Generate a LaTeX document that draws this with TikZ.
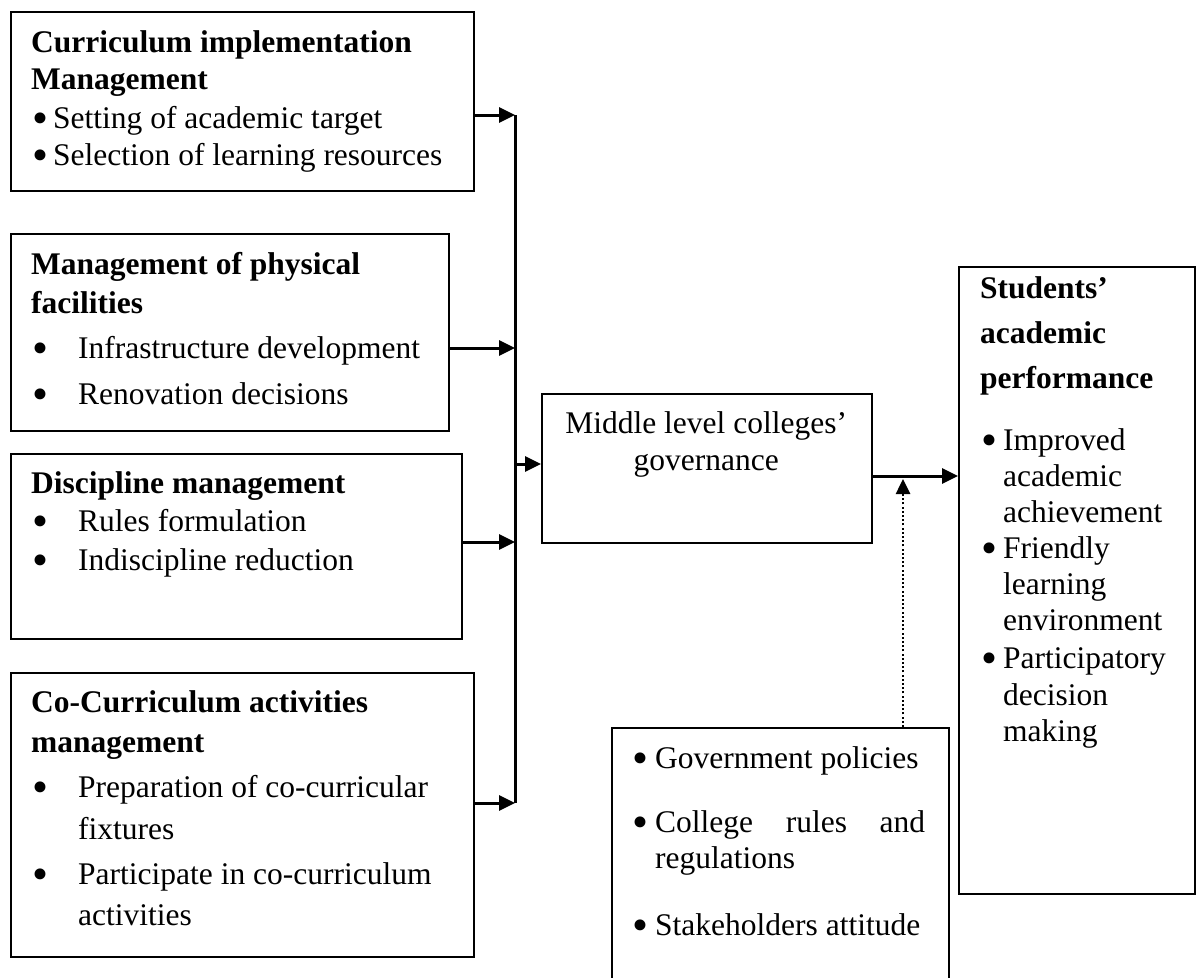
\documentclass[tikz,border=0pt]{standalone}
\usepackage{fontspec}
\setmainfont{Liberation Serif}
\usetikzlibrary{arrows.meta,calc}
\newcommand{\bdot}{\raisebox{-0.16em}{\scalebox{1.45}{•}}}
\newcommand{\bul}[1]{\hspace*{1pt}\makebox[#1][l]{\bdot}}
\begin{document}
\begin{tikzpicture}[x=1pt,y=-1pt,
  box/.style={draw, line width=2pt, inner sep=0pt, anchor=north west},
  txt/.style={anchor=base west, inner sep=0pt},
  conn/.style={line width=3pt},
  arr/.style={line width=3pt, -{Triangle[length=16pt,width=15pt]}},
  dotarr/.style={line width=2.6pt, dash pattern=on 2pt off 2.2pt, -{Triangle[length=15pt,width=14pt]}},
  font=\fontsize{31.5}{36}\selectfont]
\useasboundingbox (0,0) rectangle (1196,977);
\clip (0,0) rectangle (1196,977);

% boxes
\node[box, minimum width=463pt, minimum height=179pt] (b1) at (10,11) {};
\node[box, minimum width=438pt, minimum height=197pt] (b2) at (10,233) {};
\node[box, minimum width=451pt, minimum height=185pt] (b3) at (10,453) {};
\node[box, minimum width=463pt, minimum height=284pt] (b4) at (10,672) {};
\node[box, minimum width=330pt, minimum height=149pt] (mid) at (541,393) {};
\node[box, minimum width=236pt, minimum height=627pt] (rb) at (958,266) {};
\node[box, minimum width=337pt, minimum height=300pt] (bb) at (611,727) {};

% texts
\node[txt] (t1) at (31,52) {\parbox[t]{460pt}{\textbf{Curriculum implementation}\\[1.5pt]
  \textbf{Management}\\[2.5pt]
  \bul{21pt}Setting of academic target\\[1pt]
  \bul{21pt}Selection of learning resources}};
\node[txt] (t2) at (31,274) {\parbox[t]{430pt}{\textbf{Management of physical}\\[3pt]
  \textbf{facilities}\\[9pt]
  \bul{46pt}Infrastructure development\\[10pt]
  \bul{46pt}Renovation decisions}};
\node[txt] (t3) at (31,493) {\parbox[t]{430pt}{\textbf{Discipline management}\\[2pt]
  \bul{46pt}Rules formulation\\[3pt]
  \bul{46pt}Indiscipline reduction}};
\node[txt] (t4) at (31,712) {\parbox[t]{440pt}{\textbf{Co-Curriculum activities}\\[4pt]
  \textbf{management}\\[9pt]
  \bul{46pt}Preparation of co-curricular\\[6pt]
  \hspace*{47pt}fixtures\\[9pt]
  \bul{46pt}Participate in co-curriculum\\[5pt]
  \hspace*{47pt}activities}};
\node[txt] (tm) at (541,433) {\parbox[t]{330pt}{\centering Middle level colleges’\\[1pt]governance}};
\node[txt] (tb) at (631,768) {\parbox[t]{320pt}{\bul{23pt}Government policies\\[28pt]
  \bul{23pt}\hbox to 270pt{College\hfill rules\hfill and}\\[0pt]
  \hspace*{24pt}regulations\\[31pt]
  \bul{23pt}Stakeholders attitude}};
\node[txt] (tr) at (980,298) {\parbox[t]{210pt}{\textbf{Students’}\\[9pt]
  \textbf{academic}\\[9pt]
  \textbf{performance}\\[26pt]
  \bul{22pt}Improved\\
  \hspace*{23pt}academic\\
  \hspace*{23pt}achievement\\
  \bul{22pt}Friendly\\
  \hspace*{23pt}learning\\
  \hspace*{23pt}environment\\[2pt]
  \bul{22pt}Participatory\\[1pt]
  \hspace*{23pt}decision\\
  \hspace*{23pt}making}};

% connectors
\coordinate (j1) at (515,115);
\coordinate (j2) at (515,348);
\coordinate (j3) at (515,542);
\coordinate (j4) at (515,803);
\coordinate (jm) at (515,464);
\coordinate (jo) at (903,476);
\draw[conn] (j1) -- (j4);
\draw[arr] (b1.east |- j1) -- (j1);
\draw[arr] (b2.east |- j2) -- (j2);
\draw[arr] (b3.east |- j3) -- (j3);
\draw[arr] (b4.east |- j4) -- (j4);
\draw[arr] (jm) -- (mid.west |- jm);
\draw[arr] (mid.east |- jo) -- (rb.west |- jo);
\draw[dotarr] (bb.north -| jo) -- ($(jo)+(0,3)$);
\end{tikzpicture}
\end{document}
